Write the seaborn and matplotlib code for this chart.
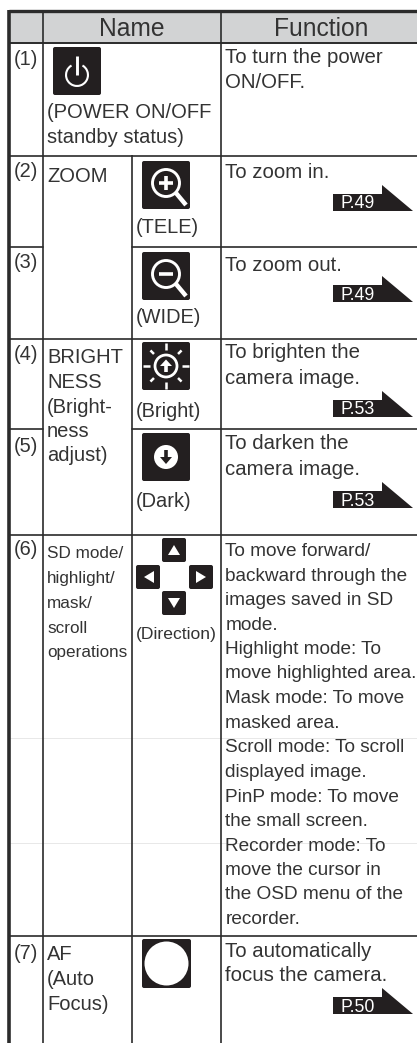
import numpy as np
import seaborn as sns
import matplotlib.pyplot as plt
from matplotlib.patches import FancyBboxPatch, Circle, Polygon, Wedge, Rectangle

W, H = 417, 1043

row_numbers = ["(1)", "(2)", "(3)", "(4)", "(5)", "(6)", "(7)"]
number_y = [65, 177, 268, 360, 452, 555, 959]

headers = ["Name", "Function"]

name_lines = ["(POWER ON/OFF", "standby status)", "ZOOM", "BRIGHT", "NESS", "(Bright-",
              "ness", "adjust)", "AF", "(Auto", "Focus)"]
name_y = [118, 143, 182, 363, 388, 413, 437, 461, 960, 985, 1010]

narrow_lines = ["SD mode/", "highlight/", "mask/", "scroll", "operations"]
narrow_y = [558, 583, 608, 633, 657]

key_labels = ["(TELE)", "(WIDE)", "(Bright)", "(Dark)"]
key_y = [233, 323, 417, 507]

function_lines = ["To turn the power", "ON/OFF.", "To zoom in.", "To zoom out.",
                  "To brighten the", "camera image.", "To darken the", "camera image.",
                  "To automatically", "focus the camera."]
function_y = [63, 88, 178, 271, 358, 384, 449, 475, 957, 981]

# row (6) is set a little tighter than the other rows
long_lines = [
    "To move forward/", "backward through the", "images saved in SD", "mode.",
    "Highlight mode: To", "move highlighted area.", "Mask mode: To move", "masked area.",
    "Scroll mode: To scroll", "displayed image.", "PinP mode: To move", "the small screen.",
    "Recorder mode: To", "move the cursor in", "the OSD menu of the", "recorder.",
]
long_y = [556, 581, 605, 630, 654, 678, 703, 728, 752, 777, 802, 826, 851, 875, 899, 924]

page_refs = ["P.49", "P.49", "P.53", "P.53", "P.50"]
page_ref_bottom = [211, 302, 417, 508, 1014]

row_lines = [155, 246, 338, 428, 534, 935]
col_lines = [43, 132, 221]

INK = "#2b2b2b"
TEXT = "#333333"
KEY = "#231f20"

sns.set_theme(style="white")
plt.rcParams["font.family"] = ["Liberation Sans", "DejaVu Sans"]

fig = plt.figure(figsize=(W / 100, H / 100), dpi=100)
ax = fig.add_axes([0, 0, 1, 1])
ax.set_xlim(0, W)
ax.set_ylim(H, 0)
ax.axis("off")


def key(x0, y0, size):
    ax.add_patch(FancyBboxPatch((x0 + 2, y0 + 2), size - 4, size - 4,
                                boxstyle="round,pad=2,rounding_size=2",
                                fc=KEY, ec="none", zorder=3))


def line(xs, ys, lw=2.0):
    ax.plot(xs, ys, color="white", lw=lw, solid_capstyle="butt", zorder=4)


def magnifier(x0, y0, sign):
    cx, cy = x0 + 24, y0 + 22
    ax.add_patch(Circle((cx, cy), 13.5, fc="none", ec="white", lw=2.1, zorder=4))
    line([cx + 10, x0 + 44], [cy + 10, y0 + 44], lw=3.2)
    line([cx - 7, cx + 7], [cy, cy], lw=2.6)
    if sign == "+":
        line([cx, cx], [cy - 7, cy + 7], lw=2.6)


def page_ref(label, bottom):
    ax.add_patch(Polygon([(333, bottom), (333, bottom - 17), (382, bottom - 17),
                          (382, bottom - 26), (413, bottom)],
                         closed=True, fc=KEY, ec="none", zorder=3))
    ax.text(358, bottom - 2.5, label, color="white", fontsize=12.8, ha="center",
            va="baseline", zorder=4)


# header band and ruling
ax.add_patch(Rectangle((9, 11), W - 9, 31, fc="#d2d3d4", ec="none", zorder=0))
for y in [738, 843]:
    ax.plot([9, W], [y, y], color="#e4e4e4", lw=0.6, zorder=0)
ax.plot([9.5, 9.5], [10, H], color=INK, lw=2.6, solid_capstyle="butt", zorder=2)
ax.plot([9, W], [11, 11], color=INK, lw=2.4, solid_capstyle="butt", zorder=2)
ax.plot([9, W], [42.5, 42.5], color=INK, lw=1.4, zorder=2)
for x in col_lines:
    top = 155 if x == 132 else 11
    ax.plot([x + 0.5, x + 0.5], [top, H], color=INK, lw=1.2, solid_capstyle="butt", zorder=2)
for y in row_lines:
    if y == 246 or y == 428:
        ax.plot([9, 43], [y + 0.5, y + 0.5], color=INK, lw=1.2, zorder=2)
        ax.plot([132, W], [y + 0.5, y + 0.5], color=INK, lw=1.2, zorder=2)
    else:
        ax.plot([9, W], [y + 0.5, y + 0.5], color=INK, lw=1.2, zorder=2)

# text
ax.text(132, 36, headers[0], color=TEXT, fontsize=17.7, ha="center", va="baseline")
ax.text(321, 36, headers[1], color=TEXT, fontsize=17.7, ha="center", va="baseline")
for label, y in zip(row_numbers, number_y):
    ax.text(14, y, label, color=TEXT, fontsize=14.4, va="baseline")
for label, y in zip(name_lines, name_y):
    ax.text(47, y, label, color=TEXT, fontsize=14.5, va="baseline")
for label, y in zip(narrow_lines, narrow_y):
    ax.text(47, y, label, color=TEXT, fontsize=12.3, va="baseline")
for label, y in zip(key_labels, key_y):
    ax.text(136, y, label, color=TEXT, fontsize=14.4, va="baseline")
ax.text(136, 639, "(Direction)", color=TEXT, fontsize=12.6, va="baseline")
for label, y in zip(function_lines, function_y):
    ax.text(225.5, y, label, color=TEXT, fontsize=14.7, va="baseline")
for label, y in zip(long_lines, long_y):
    ax.text(225.5, y, label, color=TEXT, fontsize=13.7, va="baseline")
for label, bottom in zip(page_refs, page_ref_bottom):
    page_ref(label, bottom)

# power key
key(53, 47, 48)
ax.add_patch(Wedge((77, 75), 12, -60, 240, width=2.1, fc="white", ec="none", zorder=4))
line([77, 77], [56, 75], lw=2.1)

# zoom keys
key(142, 161, 48)
magnifier(142, 161, "+")
key(142, 252, 48)
magnifier(142, 252, "-")

# brightness keys
key(142, 342, 48)
bx, by = 166, 366
ax.add_patch(Circle((bx, by), 11, fc="none", ec="white", lw=2, zorder=4))
ax.add_patch(Polygon([(bx - 6, by), (bx, by - 6.5), (bx + 6, by)], fc="white", ec="none", zorder=4))
line([bx, bx], [by - 1, by + 6], lw=2.6)
for ang in np.arange(0, 360, 45):
    r0, r1 = (16, 23) if ang % 90 == 0 else (17, 22)
    dx, dy = np.cos(np.radians(ang)), np.sin(np.radians(ang))
    line([bx + r0 * dx, bx + r1 * dx], [by + r0 * dy, by + r1 * dy], lw=1.8)

key(142, 433, 48)
ax.add_patch(Circle((166, 457), 12, fc="white", ec="none", zorder=4))
ax.add_patch(Polygon([(160, 457), (172, 457), (166, 464)], fc=KEY, ec="none", zorder=5))
ax.plot([166, 166], [450, 458], color=KEY, lw=2.6, solid_capstyle="butt", zorder=5)

# direction keys
key(162, 538, 24)
ax.add_patch(Polygon([(168, 555), (180, 555), (174, 545)], fc="white", ec="none", zorder=4))
key(136, 565, 24)
ax.add_patch(Polygon([(154, 571), (154, 583), (144, 577)], fc="white", ec="none", zorder=4))
key(189, 565, 24)
ax.add_patch(Polygon([(196, 571), (196, 583), (206, 577)], fc="white", ec="none", zorder=4))
key(162, 591, 24)
ax.add_patch(Polygon([(168, 598), (180, 598), (174, 608)], fc="white", ec="none", zorder=4))

# AF key
key(142, 939, 49)
ax.add_patch(Circle((166.5, 963.5), 22, fc="white", ec="none", zorder=4))

fig.savefig("out.png", dpi=100)
